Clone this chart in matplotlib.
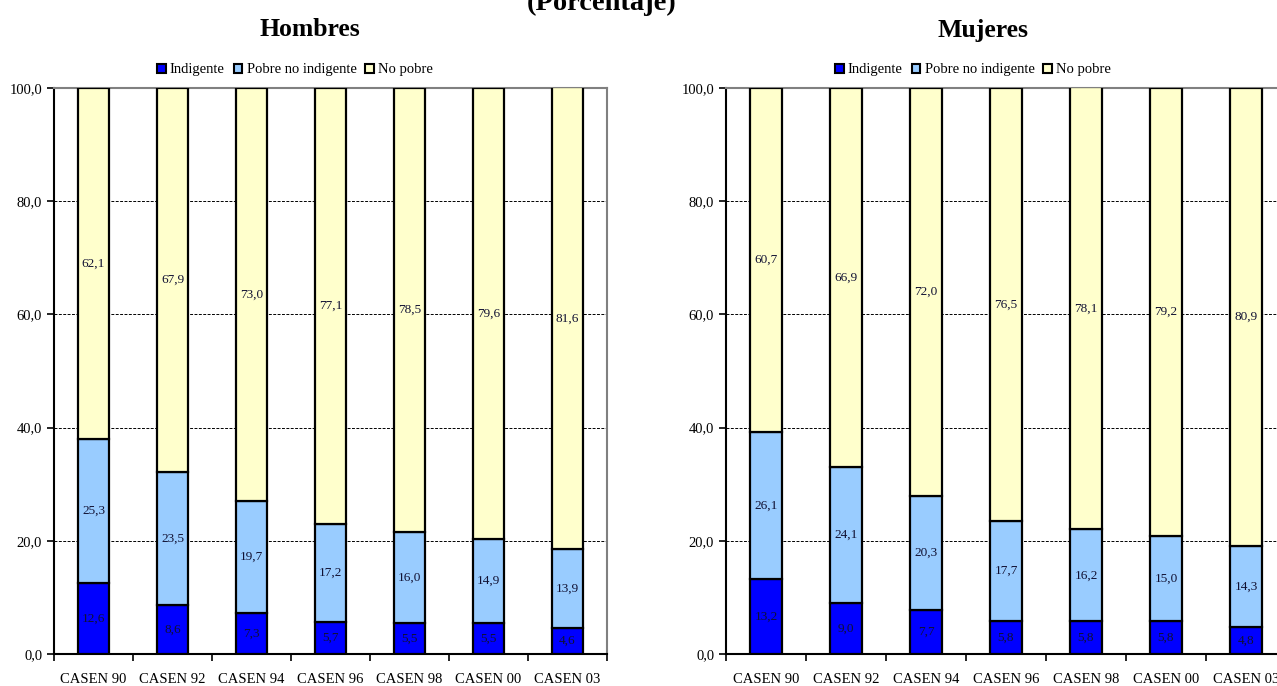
import matplotlib
matplotlib.use("Agg")
import matplotlib.pyplot as plt
from matplotlib.patches import Patch
from matplotlib.ticker import FuncFormatter, FixedLocator
import numpy as np

plt.rcParams['font.family'] = ['Liberation Serif', 'DejaVu Serif']

categories = ["CASEN 90", "CASEN 92", "CASEN 94", "CASEN 96", "CASEN 98", "CASEN 00", "CASEN 03"]
series_names = ["Indigente", "Pobre no indigente", "No pobre"]

hombres_indigente = [12.6, 8.6, 7.3, 5.7, 5.5, 5.5, 4.6]
hombres_pobre_no_ind = [25.3, 23.5, 19.7, 17.2, 16.0, 14.9, 13.9]
hombres_no_pobre = [62.1, 67.9, 73.0, 77.1, 78.5, 79.6, 81.6]

mujeres_indigente = [13.2, 9.0, 7.7, 5.8, 5.8, 5.8, 4.8]
mujeres_pobre_no_ind = [26.1, 24.1, 20.3, 17.7, 16.2, 15.0, 14.3]
mujeres_no_pobre = [60.7, 66.9, 72.0, 76.5, 78.1, 79.2, 80.9]

colors = ["#0000FF", "#99CCFF", "#FFFFCC"]

fig = plt.figure(figsize=(12.77, 6.86), dpi=100)
W, H = 1277, 686

def px_axes(x0, x1, ytop, ybot):
    return fig.add_axes([x0 / W, 1 - ybot / H, (x1 - x0) / W, (ybot - ytop) / H])

ax1 = px_axes(54, 607, 88, 654)
ax2 = px_axes(726, 1286, 88, 654)

def fmt(v):
    return f"{v:.1f}".replace(".", ",")

def draw(ax, data):
    x = np.arange(len(categories))
    bottom = np.zeros(len(categories))
    for vals, c in zip(data, colors):
        vals = np.array(vals)
        ax.bar(x, vals, 0.39, bottom=bottom, color=c, edgecolor="black", linewidth=1.6, zorder=3)
        for xi, b, v in zip(x, bottom, vals):
            ax.text(xi, b + v / 2, fmt(v), ha="center", va="center", fontsize=9.5, color="#111133", zorder=4)
        bottom = bottom + vals
    ax.set_xlim(-0.5, len(categories) - 0.5)
    ax.set_ylim(0, 100)
    ax.set_yticks([0, 20, 40, 60, 80, 100])
    ax.yaxis.set_major_formatter(FuncFormatter(lambda v, p: fmt(v)))
    ax.set_xticks(x)
    ax.set_xticklabels(categories, fontsize=10.5)
    ax.xaxis.set_minor_locator(FixedLocator(np.arange(len(categories) + 1) - 0.5))
    ax.tick_params(axis="x", which="major", length=0, pad=14)
    ax.tick_params(axis="x", which="minor", length=5, width=1.2, direction="out")
    ax.tick_params(axis="y", length=5, width=1.2, direction="out", labelsize=10.5)
    for y in [20, 40, 60, 80]:
        ax.axhline(y, color="black", linestyle=(0, (3, 1.5)), linewidth=0.7, zorder=1)
    ax.spines["left"].set_color("black")
    ax.spines["left"].set_linewidth(1.5)
    ax.spines["bottom"].set_color("black")
    ax.spines["bottom"].set_linewidth(1.5)
    ax.spines["top"].set_color("#808080")
    ax.spines["top"].set_linewidth(1.5)
    ax.spines["right"].set_color("#808080")
    ax.spines["right"].set_linewidth(1.5)

draw(ax1, [hombres_indigente, hombres_pobre_no_ind, hombres_no_pobre])
draw(ax2, [mujeres_indigente, mujeres_pobre_no_ind, mujeres_no_pobre])

handles = [Patch(facecolor=c, edgecolor="black", linewidth=1.5) for c in colors]
for cx in [295 / W, 973 / W]:
    fig.legend(handles, series_names, loc="center", bbox_to_anchor=(cx, 1 - 70 / H),
               ncol=3, frameon=False, fontsize=10.5, handlelength=0.6, handleheight=0.6,
               handletextpad=0.3, columnspacing=0.6, borderpad=0)

fig.text(310 / W, 1 - 30 / H, "Hombres", ha="center", va="center", fontsize=18.5, fontweight="bold")
fig.text(983 / W, 1 - 30 / H, "Mujeres", ha="center", va="center", fontsize=18.5, fontweight="bold")
fig.text(602 / W, 1 - 10 / H, "(Porcentaje)", ha="center", va="baseline", fontsize=20.5, fontweight="bold")

fig.savefig("out.png", dpi=100)
